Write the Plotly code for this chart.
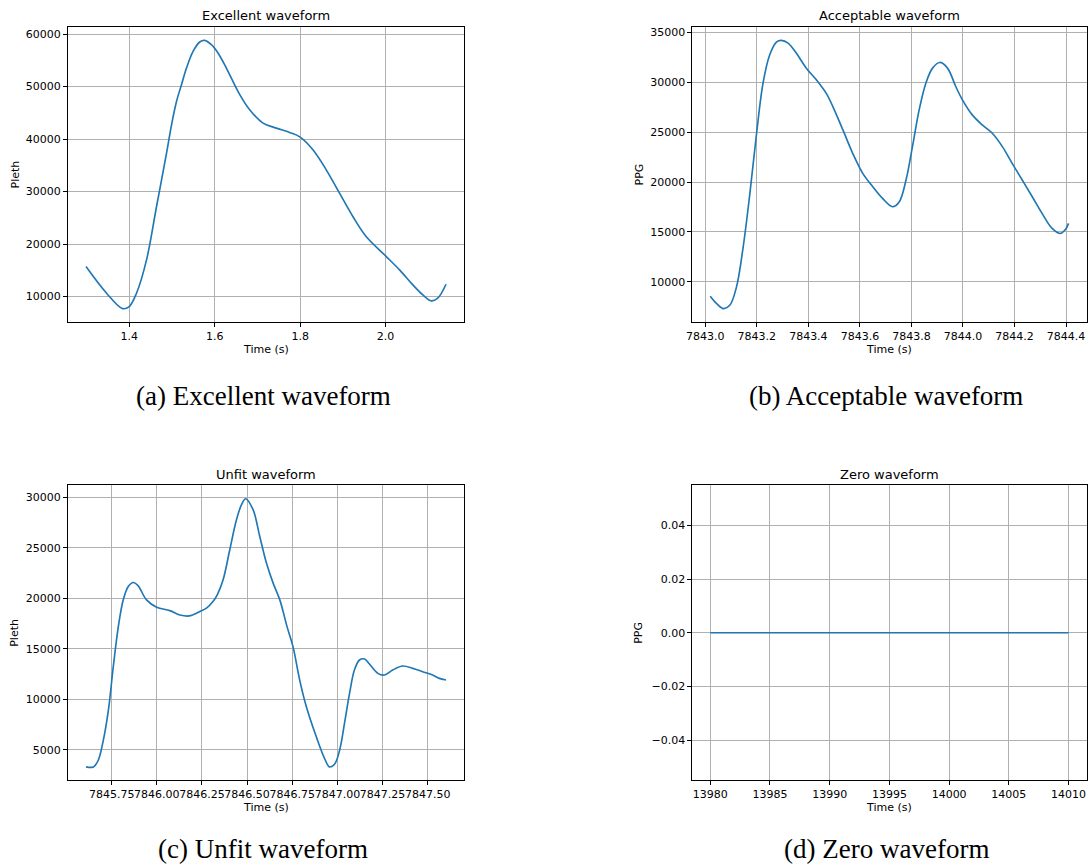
import plotly.graph_objects as go

# ---------------- data ----------------
a_time = [1.2988, 1.347, 1.3844, 1.4, 1.417, 1.4405, 1.4639, 1.4873, 1.4990, 1.5106,
          1.5223, 1.5340, 1.5494, 1.5650, 1.5766, 1.5923, 1.6077, 1.6273, 1.6567, 1.6819,
          1.7131, 1.7442, 1.7754, 1.8, 1.8299, 1.8611, 1.8922, 1.9234, 1.9545, 2.0,
          2.0327, 2.0639, 2.0872, 2.1067, 2.122, 2.1414]
a_pleth = [15720, 10637, 7715, 8100, 10640, 16990, 27150, 37319, 42713, 47153,
           50337, 53520, 56684, 58475, 58780, 57960, 56379, 53520, 48755, 45580,
           43040, 42080, 41260, 40370, 37960, 34140, 29700, 25250, 21440, 17750,
           15080, 12230, 10320, 9180, 9690, 12350]

b_time = [7843.019, 7843.044, 7843.070, 7843.095, 7843.121, 7843.147, 7843.173, 7843.199,
          7843.224, 7843.250, 7843.276, 7843.295, 7843.321, 7843.353, 7843.392, 7843.431,
          7843.469, 7843.495, 7843.534, 7843.572, 7843.611, 7843.650, 7843.688, 7843.727,
          7843.753, 7843.779, 7843.804, 7843.830, 7843.856, 7843.882, 7843.910, 7843.940,
          7843.972, 7843.998, 7844.036, 7844.075, 7844.114, 7844.153, 7844.191, 7844.230,
          7844.269, 7844.307, 7844.346, 7844.378, 7844.398, 7844.410]
b_ppg = [8559, 7822, 7320, 7655, 9496, 13512, 18867, 24892,
         29913, 32757, 34029, 34197, 33929, 32925, 31419, 30247,
         28909, 27570, 25227, 22884, 20875, 19537, 18365, 17528,
         18031, 20206, 23553, 27235, 29913, 31419, 31988, 31419,
         29578, 28239, 26733, 25729, 24892, 23553, 21880, 20206,
         18533, 16859, 15353, 14851, 15253, 15856]

c_time = [7845.608, 7845.649, 7845.676, 7845.704, 7845.732, 7845.759, 7845.787, 7845.814,
          7845.842, 7845.870, 7845.897, 7845.943, 7845.999, 7846.072, 7846.128, 7846.179,
          7846.238, 7846.275, 7846.311, 7846.336, 7846.367, 7846.404, 7846.441, 7846.469,
          7846.492, 7846.533, 7846.570, 7846.607, 7846.644, 7846.681, 7846.721, 7846.754,
          7846.791, 7846.828, 7846.883, 7846.929, 7846.956, 7846.984, 7847.012, 7847.039,
          7847.067, 7847.094, 7847.122, 7847.150, 7847.177, 7847.224, 7847.260, 7847.306,
          7847.362, 7847.417, 7847.472, 7847.527, 7847.564, 7847.601]
c_pleth = [3313, 3313, 3973, 5958, 8934, 13234, 17202, 19847,
           21170, 21567, 21236, 19847, 19120, 18789, 18359, 18260,
           18690, 19027, 19682, 20400, 21836, 24812, 27788, 29276,
           29868, 28780, 26131, 23494, 21508, 19850, 17203, 15218,
           11911, 9265, 6289, 4140, 3313, 3577, 4966, 7612,
           10588, 12903, 13895, 13994, 13498, 12572, 12407, 12903,
           13300, 13069, 12738, 12407, 12076, 11911]

d_time = [13980, 14010]
d_ppg = [0.0, 0.0]

# tick labels
a_xticks = [1.4, 1.6, 1.8, 2.0]
a_xlabels = ["1.4", "1.6", "1.8", "2.0"]
a_yticks = [10000, 20000, 30000, 40000, 50000, 60000]
b_xticks = [7843.0, 7843.2, 7843.4, 7843.6, 7843.8, 7844.0, 7844.2, 7844.4]
b_xlabels = ["7843.0", "7843.2", "7843.4", "7843.6", "7843.8", "7844.0", "7844.2", "7844.4"]
b_yticks = [10000, 15000, 20000, 25000, 30000, 35000]
c_xticks = [7845.75, 7846.00, 7846.25, 7846.50, 7846.75, 7847.00, 7847.25, 7847.50]
c_xlabels = ["7845.75", "7846.00", "7846.25", "7846.50", "7846.75", "7847.00", "7847.25", "7847.50"]
c_yticks = [5000, 10000, 15000, 20000, 25000, 30000]
d_xticks = [13980, 13985, 13990, 13995, 14000, 14005, 14010]
d_yticks = [-0.04, -0.02, 0.0, 0.02, 0.04]
d_ylabels = ["\u22120.04", "\u22120.02", "0.00", "0.02", "0.04"]

titles = ["Excellent waveform", "Acceptable waveform", "Unfit waveform", "Zero waveform"]
ylabels = ["Pleth", "PPG", "Pleth", "PPG"]
captions = ["(a) Excellent waveform", "(b) Acceptable waveform",
            "(c) Unfit waveform", "(d) Zero waveform"]

# ---------------- layout helpers ----------------
W, H = 1088, 866


def px(x):
    return x / W


def py(y):
    return 1 - y / H


def padded(vals, frac=0.05):
    lo, hi = min(vals), max(vals)
    s = hi - lo
    return [lo - frac * s, hi + frac * s]


def axis_style(**kw):
    d = dict(showline=True, mirror=True, linecolor="black", linewidth=0.9,
             ticks="outside", ticklen=4, tickwidth=0.9, tickcolor="black",
             showgrid=True, gridcolor="#b0b0b0", gridwidth=0.9, zeroline=False,
             tickfont=dict(family="DejaVu Sans", size=11, color="black"),
             tickangle=0, tickmode="array", automargin=False)
    d.update(kw)
    return d


LINE = dict(color="#1f77b4", width=1.65, shape="spline", smoothing=1.0)

fig = go.Figure()
fig.add_trace(go.Scatter(x=a_time, y=a_pleth, mode="lines", line=LINE, xaxis="x", yaxis="y"))
fig.add_trace(go.Scatter(x=b_time, y=b_ppg, mode="lines", line=LINE, xaxis="x2", yaxis="y2"))
fig.add_trace(go.Scatter(x=c_time, y=c_pleth, mode="lines", line=LINE, xaxis="x3", yaxis="y3"))
fig.add_trace(go.Scatter(x=d_time, y=d_ppg, mode="lines", line=dict(color="#1f77b4", width=1.65),
                         xaxis="x4", yaxis="y4"))

# pixel boxes of the four plot areas: (left, right, top, bottom)
boxes = [(68, 464, 27, 322), (692.3, 1086.5, 27, 322),
         (68, 464, 485.3, 780.3), (692.3, 1086.5, 485.3, 780.3)]

fig.update_layout(
    width=W, height=H, margin=dict(l=0, r=0, t=0, b=0, pad=0), autosize=False,
    paper_bgcolor="white", plot_bgcolor="white", showlegend=False,
    xaxis=axis_style(domain=[px(boxes[0][0]), px(boxes[0][1])], anchor="y",
                     range=padded(a_time), tickvals=a_xticks, ticktext=a_xlabels),
    yaxis=axis_style(domain=[py(boxes[0][3]), py(boxes[0][2])], anchor="x",
                     range=padded(a_pleth), tickvals=a_yticks, ticktext=[str(v) for v in a_yticks]),
    xaxis2=axis_style(domain=[px(boxes[1][0]), px(boxes[1][1])], anchor="y2",
                      range=padded(b_time), tickvals=b_xticks, ticktext=b_xlabels),
    yaxis2=axis_style(domain=[py(boxes[1][3]), py(boxes[1][2])], anchor="x2",
                      range=padded(b_ppg), tickvals=b_yticks, ticktext=[str(v) for v in b_yticks]),
    xaxis3=axis_style(domain=[px(boxes[2][0]), px(boxes[2][1])], anchor="y3",
                      range=padded(c_time), tickvals=c_xticks, ticktext=c_xlabels),
    yaxis3=axis_style(domain=[py(boxes[2][3]), py(boxes[2][2])], anchor="x3",
                      range=padded(c_pleth), tickvals=c_yticks, ticktext=[str(v) for v in c_yticks]),
    xaxis4=axis_style(domain=[px(boxes[3][0]), px(boxes[3][1])], anchor="y4",
                      range=padded(d_time), tickvals=d_xticks, ticktext=[str(v) for v in d_xticks]),
    yaxis4=axis_style(domain=[py(boxes[3][3]), py(boxes[3][2])], anchor="x4",
                      range=[-0.055, 0.055], tickvals=d_yticks, ticktext=d_ylabels),
)

SANS = dict(family="DejaVu Sans", color="black")
anns = []
ylabel_x = [15, 639, 15, 639]
caption_y = [396, 396, 849, 849]
for i, (l, r, t, b) in enumerate(boxes):
    cx = (l + r) / 2
    anns.append(dict(text=titles[i], x=px(cx), y=py(t - 11), xref="paper", yref="paper",
                     showarrow=False, xanchor="center", yanchor="middle",
                     font=dict(size=13, **SANS)))
    anns.append(dict(text="Time (s)", x=px(cx), y=py(b + 27), xref="paper", yref="paper",
                     showarrow=False, xanchor="center", yanchor="middle",
                     font=dict(size=11, **SANS)))
    anns.append(dict(text=ylabels[i], x=px(ylabel_x[i]), y=py((t + b) / 2), xref="paper",
                     yref="paper", showarrow=False, xanchor="center", yanchor="middle",
                     textangle=-90, font=dict(size=11, **SANS)))
    anns.append(dict(text=captions[i], x=px(cx - 3), y=py(caption_y[i]), xref="paper",
                     yref="paper", showarrow=False, xanchor="center", yanchor="middle",
                     font=dict(size=27, family="Liberation Serif", color="black")))
fig.update_layout(annotations=anns)

fig.write_html("out.html", config={"displayModeBar": False},
               post_script="document.body.style.margin='0';document.body.style.overflow='hidden';")
